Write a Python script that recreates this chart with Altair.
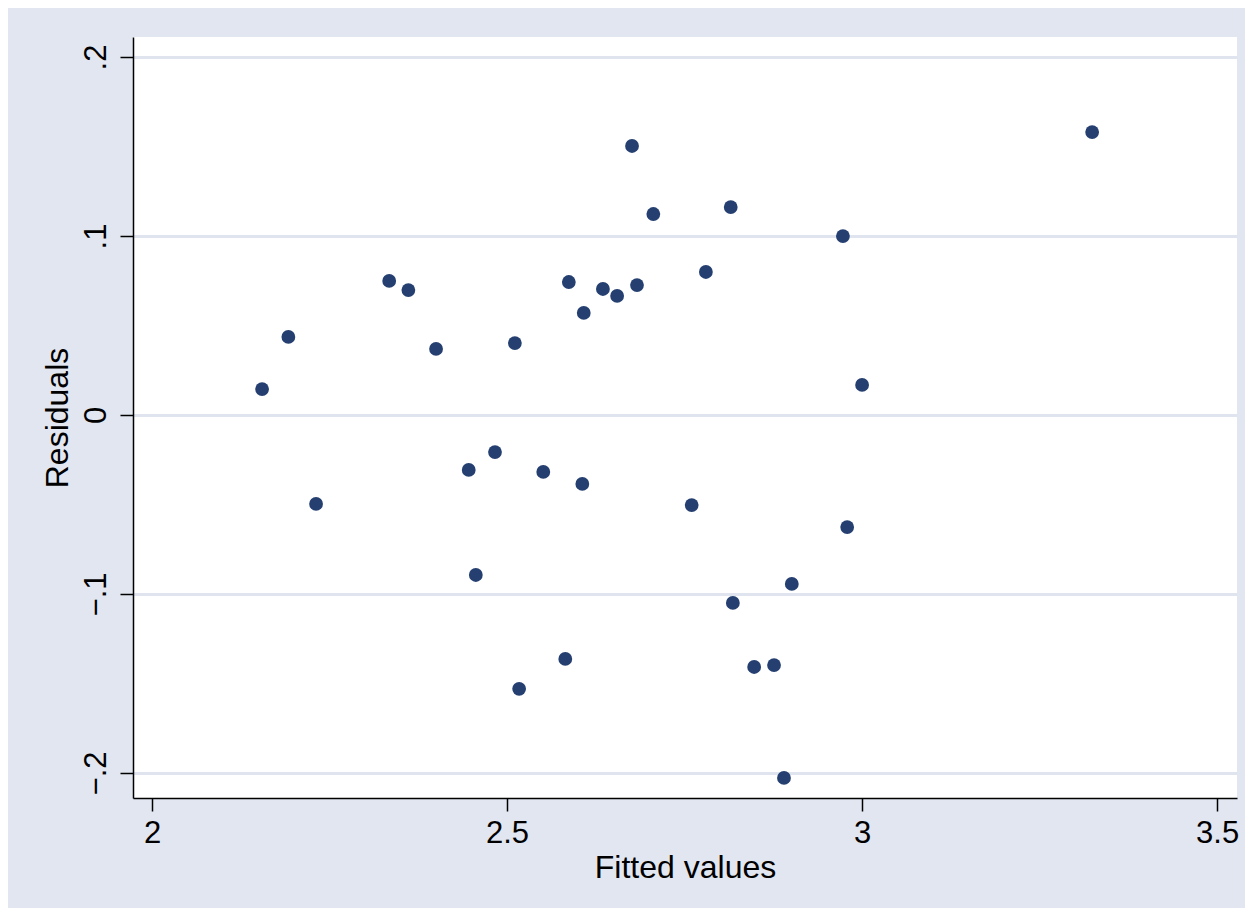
import altair as alt
import pandas as pd

fitted = [2.155, 2.192, 2.231, 2.334, 2.361, 2.400, 2.446, 2.456, 2.483, 2.511,
          2.517, 2.551, 2.582, 2.587, 2.606, 2.608, 2.635, 2.655, 2.676, 2.683,
          2.706, 2.760, 2.780, 2.815, 2.818, 2.848, 2.876, 2.890, 2.901, 2.973,
          2.979, 3.000, 3.324]
residuals = [0.0145, 0.0436, -0.0497, 0.0749, 0.0698, 0.0369, -0.0307, -0.0894, -0.0207, 0.0402,
             -0.1530, -0.0318, -0.1363, 0.0743, -0.0385, 0.0570, 0.0704, 0.0665, 0.1503, 0.0726,
             0.1123, -0.0503, 0.0799, 0.1162, -0.1050, -0.1408, -0.1397, -0.2028, -0.0944, 0.1000,
             -0.0626, 0.0168, 0.1581]

x_ticks = [2, 2.5, 3, 3.5]
y_ticks = [-0.2, -0.1, 0, 0.1, 0.2]

df = pd.DataFrame({"fitted": fitted, "resid": residuals})

chart = alt.Chart(df).mark_circle(
    size=190, color="#243f70", opacity=1
).encode(
    x=alt.X("fitted:Q",
            scale=alt.Scale(domain=[1.9732, 3.528], nice=False, zero=False),
            axis=alt.Axis(values=x_ticks, title="Fitted values", grid=False,
                          labelExpr="datum.value == 2 ? '2' : datum.value == 3 ? '3' : format(datum.value, '.1f')",
                          titlePadding=4, labelPadding=7)),
    y=alt.Y("resid:Q",
            scale=alt.Scale(domain=[-0.214, 0.2112], nice=False, zero=False),
            axis=alt.Axis(values=y_ticks, title="Residuals", grid=True,
                          labelExpr="datum.value == 0 ? '0' : replace(format(datum.value, '.1f'), '0.', '.')",
                          labelAngle=270, labelAlign="center", labelBaseline="bottom",
                          labelPadding=8, titlePadding=6)),
).properties(
    width=1104, height=761,
    background="#e1e6f0",
    padding={"left": 125, "top": 29, "right": 8, "bottom": 110},
    autosize=alt.AutoSizeParams(type="none"),
).configure_view(
    fill="white", strokeWidth=0
).configure_axis(
    labelFont="Liberation Sans", titleFont="Liberation Sans",
    labelFontSize=31, titleFontSize=32, titleFontWeight="normal",
    labelColor="black", titleColor="black",
    domainColor="black", domainWidth=1.5,
    tickColor="black", tickWidth=1.5, tickSize=13,
    gridColor="#dfe4ef", gridWidth=3,
    labelFlush=False, labelOverlap=False,
)

chart.save("out.html", embed_options={"renderer": "svg", "actions": False})
